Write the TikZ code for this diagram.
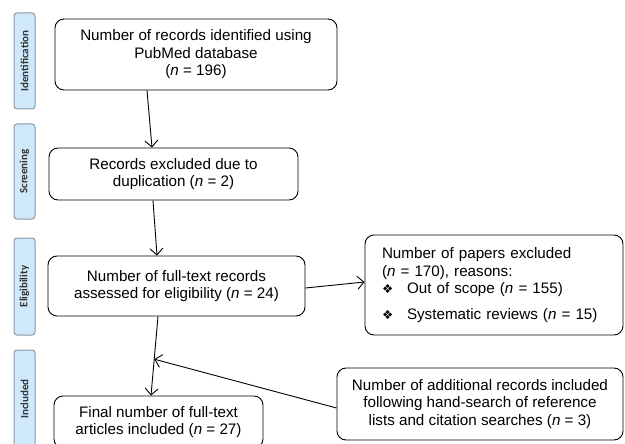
\documentclass[tikz,border=0pt]{standalone}
\usepackage{fontspec}
\setmainfont{Liberation Sans}
\newfontfamily\dejavu{DejaVu Sans}
\newfontfamily\carlito{Carlito}
\usetikzlibrary{arrows.meta,calc}
\definecolor{barfill}{HTML}{CFE8FA}
\definecolor{barline}{HTML}{8A99A6}
\newcommand{\nn}{\textit{n}}
\newcommand{\bul}{{\dejavu\fontsize{12.5}{12}\selectfont ❖}}
\begin{document}
\begin{tikzpicture}[x=1pt,y=-1pt,
 box/.style={draw, rounded corners=9pt, line width=0.9pt, align=center, font=\fontsize{15.2}{17.5}\selectfont, inner sep=0pt},
 phase/.style={draw=barline, fill=barfill, rounded corners=3pt, line width=1pt, minimum height=21pt, inner sep=0pt, rotate=90, font=\carlito\bfseries\fontsize{11}{11}\selectfont, text=black!80},
 conn/.style={line width=0.9pt, -{Straight Barb[length=6.5pt,width=13pt]}}]
\useasboundingbox (0,0) rectangle (625,444);
% phase bars
\node[phase, minimum width=96pt] (p1) at (24.5,61) {Identification};
\node[phase, minimum width=95pt] (p2) at (24.5,171.5) {Screening};
\node[phase, minimum width=97pt] (p3) at (24.5,286.5) {Eligibility};
\node[phase, minimum width=98pt] (p4) at (24.5,399) {Included};
% boxes
\node[box, minimum width=282pt, minimum height=71pt] (b1) at (196,54.5) {Number of records identified using\\PubMed database\\(\nn{} = 196)};
\node[box, minimum width=249pt, minimum height=52pt] (b2) at (173.5,174) {Records excluded due to\\duplication (\nn{} = 2)};
\node[box, minimum width=257pt, minimum height=60pt] (b3) at (176.5,286) {Number of full-text records\\assessed for eligibility (\nn{} = 24)};
\node[box, minimum width=209pt, minimum height=52pt] (b4) at (158.5,422) {Final number of full-text\\articles included (\nn{} = 27)};
\node[box, align=left, inner xsep=17pt, text width=224pt, minimum width=258pt, minimum height=100pt] (r1) at (494,285) {Number of papers excluded\\(\nn{} = 170), reasons:\\\makebox[25pt][l]{\bul}Out of scope (\nn{} = 155)\\[8pt]\makebox[25pt][l]{\bul}Systematic reviews (\nn{} = 15)};
\node[box, minimum width=286pt, minimum height=72pt] (r2) at (480,404) {Number of additional records included\\following hand-search of reference\\lists and citation searches (\nn{} = 3)};
% connectors
\draw[conn] ([xshift=-49pt]b1.south) -- ([xshift=-21.5pt]b2.north);
\draw[conn] ([xshift=-20.5pt]b2.south) -- ([xshift=-19.5pt]b3.north);
\draw[conn] ([xshift=-18.5pt]b3.south) -- ([xshift=-7.5pt]b4.north);
\draw[conn] ([yshift=-2pt]b3.east) -- ([yshift=3pt]r1.west);
\coordinate (m) at ($([xshift=-18.5pt]b3.south)!0.54!([xshift=-7.5pt]b4.north)$);
\draw[conn] ([yshift=-4pt]r2.west) -- (m);
\end{tikzpicture}
\end{document}
